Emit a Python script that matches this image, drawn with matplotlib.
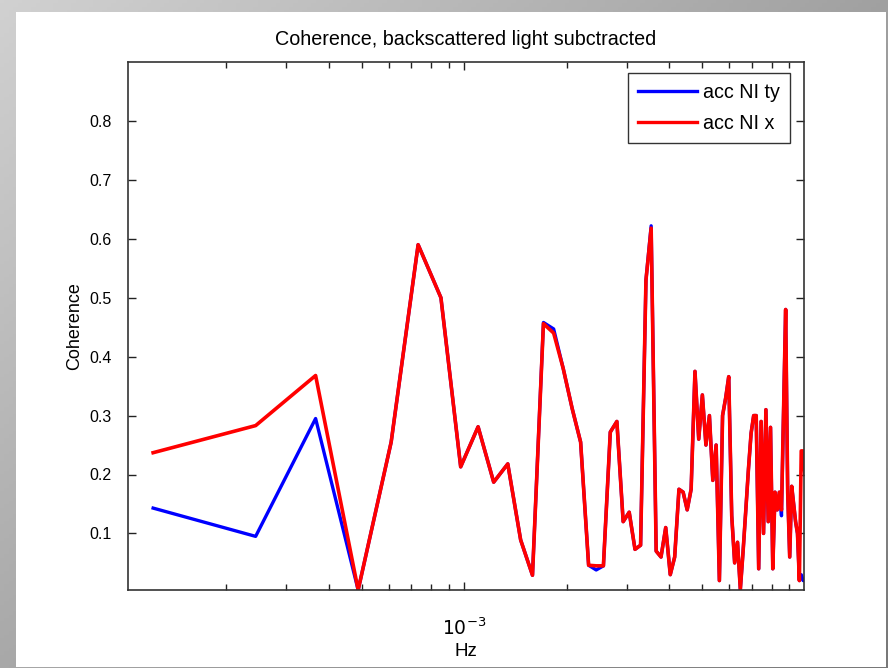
import numpy as np
import matplotlib
matplotlib.use("Agg")
import matplotlib.pyplot as plt
from matplotlib.patches import Rectangle
from matplotlib.ticker import FixedLocator, NullFormatter, FuncFormatter

# ---------------- data ----------------
freq_step = 1.0 / 8192.0          # Hz, bin spacing
n_bins = 82
freqs = np.arange(1, n_bins + 1) * freq_step

coh_red = [0.237, 0.283, 0.368, 0.004, 0.255, 0.590, 0.500, 0.213, 0.281, 0.187,
           0.218, 0.089, 0.029, 0.456, 0.440, 0.380, 0.312, 0.255, 0.046, 0.045,
           0.045, 0.272, 0.290, 0.120, 0.136, 0.073, 0.080, 0.530, 0.618, 0.070,
           0.060, 0.110, 0.030, 0.060, 0.175, 0.170, 0.140, 0.175, 0.375, 0.260,
           0.335, 0.250, 0.300, 0.190, 0.250, 0.020, 0.300, 0.330, 0.366, 0.130,
           0.050, 0.085, 0.005, 0.070, 0.140, 0.210, 0.270, 0.300, 0.300, 0.040,
           0.290, 0.100, 0.310, 0.120, 0.280, 0.040, 0.170, 0.140, 0.170, 0.140,
           0.310, 0.480, 0.170, 0.060, 0.180, 0.150, 0.120, 0.100, 0.020, 0.240,
           0.240, 0.200]

coh_blue = [0.143, 0.095, 0.295, 0.004, 0.255, 0.590, 0.500, 0.213, 0.281, 0.187,
            0.218, 0.089, 0.029, 0.458, 0.447, 0.380, 0.312, 0.255, 0.046, 0.038,
            0.045, 0.272, 0.290, 0.120, 0.136, 0.073, 0.080, 0.530, 0.622, 0.070,
            0.060, 0.110, 0.030, 0.060, 0.175, 0.170, 0.140, 0.175, 0.375, 0.260,
            0.335, 0.250, 0.300, 0.190, 0.250, 0.020, 0.300, 0.330, 0.366, 0.130,
            0.050, 0.085, 0.005, 0.070, 0.140, 0.210, 0.270, 0.300, 0.300, 0.040,
            0.290, 0.100, 0.310, 0.120, 0.280, 0.040, 0.170, 0.140, 0.170, 0.130,
            0.310, 0.480, 0.170, 0.060, 0.180, 0.150, 0.120, 0.100, 0.020, 0.030,
            0.020, 0.020]

series_labels = ["acc NI ty", "acc NI x"]
title_text = "Coherence, backscattered light subctracted"
xlabel_text = "Hz"
ylabel_text = "Coherence"
y_ticks = [0.1, 0.2, 0.3, 0.4, 0.5, 0.6, 0.7, 0.8]

# ---------------- figure ----------------
W, H = 888, 668
plt.rcParams['font.family'] = ['Liberation Sans', 'DejaVu Sans']
fig = plt.figure(figsize=(W / 100, H / 100), dpi=100)

# gray slide background with gradient
bg = fig.add_axes([0, 0, 1, 1], zorder=0)
xx, yy = np.meshgrid(np.linspace(0, 1, 200), np.linspace(0, 1, 200))
grad = 0.82 - 0.19 * xx - 0.16 * yy
bg.imshow(np.dstack([grad, grad, grad]), extent=[0, W, H, 0], aspect='auto')
bg.add_patch(Rectangle((16, 12), 870, 655, facecolor='white', edgecolor='none'))
bg.set_xlim(0, W)
bg.set_ylim(H, 0)
bg.axis('off')

L, R, T, B = 128, 804, 62, 590
ax = fig.add_axes([L / W, (H - B) / H, (R - L) / W, (B - T) / H], zorder=1)
ax.set_facecolor('white')

ax.plot(freqs, coh_blue, color='#0000ff', lw=2.4, label=series_labels[0])
ax.plot(freqs, coh_red, color='#ff0000', lw=2.6, label=series_labels[1])

ax.set_xscale('log')
ax.set_xlim(1.03e-4, 0.00995)
ax.set_ylim(0.004, 0.9)

ax.xaxis.set_major_locator(FixedLocator([1e-3]))
ax.xaxis.set_minor_locator(FixedLocator([m * 1e-4 for m in range(2, 10)] + [m * 1e-3 for m in range(2, 10)]))
ax.xaxis.set_minor_formatter(NullFormatter())
ax.xaxis.set_major_formatter(FuncFormatter(lambda v, p: r'$10^{-3}$'))
ax.set_yticks(y_ticks)
ax.set_yticklabels([f"{v:.1f}" for v in y_ticks])

ax.tick_params(which='both', direction='in', top=True, right=True, colors='#222222',
               labelcolor='black')
ax.tick_params(which='major', length=6, width=1)
ax.tick_params(which='minor', length=4, width=1)
ax.tick_params(axis='y', labelsize=11.5, pad=12)
ax.tick_params(axis='x', labelsize=13.5, pad=20)
for s in ax.spines.values():
    s.set_color('#333333')
    s.set_linewidth(1.2)

ax.set_title(title_text, fontsize=14.2, pad=12)
ax.set_xlabel(xlabel_text, fontsize=13.5, labelpad=3)
ax.set_ylabel(ylabel_text, fontsize=13, labelpad=4)

leg = ax.legend(loc='upper right', bbox_to_anchor=(0.979, 0.979), fontsize=14.2,
                frameon=True, fancybox=False, edgecolor='black', handlelength=3.0,
                handletextpad=0.3, labelspacing=0.6, borderpad=0.5, borderaxespad=0)
leg.get_frame().set_linewidth(1.0)
for line in leg.get_lines():
    line.set_linewidth(2.4)

fig.savefig("out.png", dpi=100)
